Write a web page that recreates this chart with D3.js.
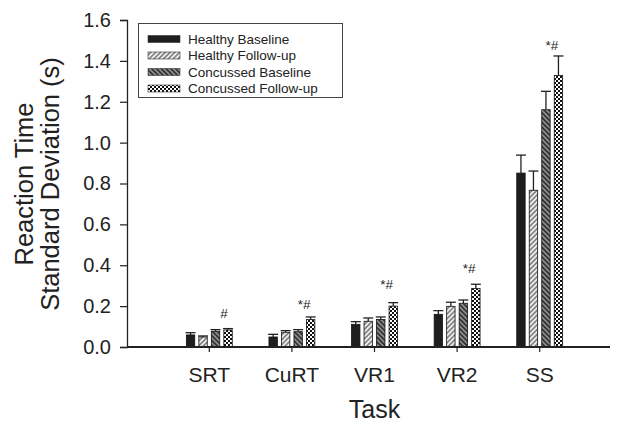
<!DOCTYPE html>
<html><head><meta charset="utf-8">
<script src="https://cdn.jsdelivr.net/npm/d3@7"></script>
<style>
html,body{margin:0;padding:0;background:#fff;}
text{font-family:"Liberation Sans",Arial,Helvetica,sans-serif;fill:#222;}
</style></head>
<body><svg id="chart" width="622" height="423"></svg>
<script>
const tasks = ["SRT","CuRT","VR1","VR2","SS"];
const series = ["Healthy Baseline","Healthy Follow-up","Concussed Baseline","Concussed Follow-up"];
const healthyBaseline   = [0.059,0.049,0.111,0.160,0.851];
const healthyFollowup   = [0.049,0.072,0.126,0.199,0.767];
const concussedBaseline = [0.077,0.075,0.135,0.214,1.161];
const concussedFollowup = [0.083,0.134,0.200,0.286,1.328];
const healthyBaselineErr   = [0.011,0.013,0.013,0.018,0.088];
const healthyFollowupErr   = [0.005,0.008,0.016,0.020,0.094];
const concussedBaselineErr = [0.008,0.010,0.012,0.016,0.090];
const concussedFollowupErr = [0.007,0.013,0.017,0.021,0.096];
const annotations = ["#","*#","*#","*#","*#"];
const annotationY = [0.165,0.209,0.307,0.385,1.474];
const yTicks = [0,0.2,0.4,0.6,0.8,1.0,1.2,1.4,1.6];

const values = [healthyBaseline, healthyFollowup, concussedBaseline, concussedFollowup];
const errs = [healthyBaselineErr, healthyFollowupErr, concussedBaselineErr, concussedFollowupErr];
const fills = ["url(#pHB)","url(#pHF)","url(#pCB)","url(#pCF)"];

const svg = d3.select("#chart");
const defs = svg.append("defs");
function stripes(id, rot, bg, fg, w, sw){
  const p = defs.append("pattern").attr("id",id).attr("patternUnits","userSpaceOnUse")
    .attr("width",w).attr("height",w).attr("patternTransform","rotate("+rot+")");
  p.append("rect").attr("width",w).attr("height",w).attr("fill",bg);
  p.append("rect").attr("width",sw).attr("height",w).attr("fill",fg);
}
defs.append("pattern").attr("id","pHB").attr("patternUnits","userSpaceOnUse").attr("width",4).attr("height",4)
  .append("rect").attr("width",4).attr("height",4).attr("fill","#1e1e1e");
stripes("pHF",45,"#eeeeee","#858585",3.4,1.7);
stripes("pCB",-45,"#8c8c8c","#333",3.4,1.7);
const cf = defs.append("pattern").attr("id","pCF").attr("patternUnits","userSpaceOnUse").attr("width",4).attr("height",4);
cf.append("rect").attr("width",4).attr("height",4).attr("fill","#fff");
cf.append("rect").attr("width",2).attr("height",2).attr("fill","#111");
cf.append("rect").attr("x",2).attr("y",2).attr("width",2).attr("height",2).attr("fill","#111");

const y = d3.scaleLinear().domain([0,1.6]).range([347,20]);
const x = d3.scaleBand().domain(tasks).range([168,581]).padding(0);
const step = 12.5, bw = 8.4, pI = 1 - bw/step, span = step*(series.length - pI);
const xs = d3.scaleBand().domain(series).range([-span/2, span/2]).paddingInner(pI).paddingOuter(0);

// y axis
const yAxis = svg.append("g").attr("transform","translate(127,0)")
  .call(d3.axisLeft(y).tickValues(yTicks).tickFormat(d3.format(".1f")).tickSizeOuter(0).tickSize(7).tickPadding(9));
yAxis.select(".domain").attr("stroke","#222").attr("stroke-width",1.3);
yAxis.selectAll(".tick line").attr("stroke","#222").attr("stroke-width",1.2);
yAxis.selectAll(".tick text").attr("font-size",20).attr("fill","#222").attr("font-family","Liberation Sans, Arial, sans-serif");

// bars
series.forEach((s,si)=>{
  const g = svg.append("g");
  g.selectAll("rect").data(tasks).join("rect")
    .attr("x",(t)=>x(t)+x.bandwidth()/2+xs(s))
    .attr("y",(t,i)=>y(values[si][i]))
    .attr("width",xs.bandwidth())
    .attr("height",(t,i)=>y(0)-y(values[si][i]))
    .attr("fill",fills[si]).attr("stroke","#111").attr("stroke-width",0.8);
  const e = svg.append("g").attr("stroke","#222").attr("stroke-width",1.3);
  tasks.forEach((t,i)=>{
    const cx = x(t)+x.bandwidth()/2+xs(s)+xs.bandwidth()/2;
    const top = y(values[si][i]+errs[si][i]);
    e.append("line").attr("x1",cx).attr("x2",cx).attr("y1",y(values[si][i])).attr("y2",top);
    e.append("line").attr("x1",cx-5).attr("x2",cx+5).attr("y1",top).attr("y2",top);
  });
});

// x axis
const xAxis = svg.append("g").attr("transform","translate(0,347)")
  .call(d3.axisBottom(x).tickSize(5).tickSizeOuter(0).tickPadding(15));
xAxis.select(".domain").remove();
xAxis.append("line").attr("x1",127).attr("x2",610).attr("y1",0).attr("y2",0).attr("stroke","#222").attr("stroke-width",2);
xAxis.selectAll(".tick line").attr("stroke","#222").attr("stroke-width",1.2);
xAxis.selectAll(".tick text").attr("font-size",21).attr("fill","#222").attr("font-family","Liberation Sans, Arial, sans-serif");

// annotations
svg.append("g").selectAll("text").data(tasks).join("text")
  .attr("x",t=>x(t)+x.bandwidth()/2+18.5)
  .attr("y",(t,i)=>y(annotationY[i])+4.5)
  .attr("text-anchor","end").attr("font-size",13.5)
  .text((t,i)=>annotations[i]);

// axis titles
svg.append("text").attr("x",374.5).attr("y",418).attr("text-anchor","middle").attr("font-size",25).text("Task");
svg.append("text").attr("transform","translate(33,184) rotate(-90)").attr("text-anchor","middle").attr("font-size",25.5).text("Reaction Time");
svg.append("text").attr("transform","translate(59,184) rotate(-90)").attr("text-anchor","middle").attr("font-size",25.5).text("Standard Deviation (s)");

// legend
const lg = svg.append("g");
lg.append("rect").attr("x",138.5).attr("y",23.5).attr("width",204).attr("height",74).attr("fill","#fff").attr("stroke","#444").attr("stroke-width",1);
const rowY = d3.scalePoint().domain(series).range([39,88.5]);
series.forEach((s,si)=>{
  lg.append("rect").attr("x",148).attr("y",rowY(s)-3.5).attr("width",32).attr("height",7)
    .attr("fill",fills[si]).attr("stroke","#333").attr("stroke-width",0.6);
  lg.append("text").attr("x",188).attr("y",rowY(s)+4.8).attr("font-size",13.5).text(s);
});
</script></body></html>
